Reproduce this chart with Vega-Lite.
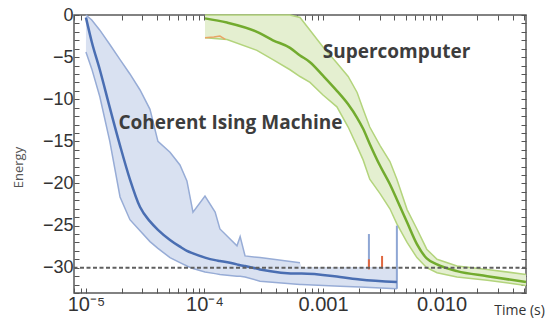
{
  "$schema": "https://vega.github.io/schema/vega-lite/v6.json",
  "width": 452,
  "height": 278,
  "autosize": {"type": "none"},
  "padding": {"left": 74, "top": 15, "right": 19, "bottom": 34},
  "background": "white",
  "config": {
    "view": {"stroke": "#5a5a5a", "strokeWidth": 1.5},
    "axis": {"domain": false, "grid": false, "tickColor": "#555555", "tickWidth": 1, "labelColor": "#333333", "labelFont": "Liberation Sans", "titleFont": "Open Sans", "titleFontWeight": "normal", "titleColor": "#555555", "zindex": 1}
  },
  "datasets": {
    "cim": [
      {"t": 0.00001, "mean": -0.3, "lo": -4.4, "hi": 0, "hl": 0},
      {"t": 0.0000112, "mean": -3.2, "lo": -6.4, "hi": -0.6, "hl": -0.6},
      {"t": 0.0000131, "mean": -6.5, "lo": -9.7, "hi": -1.8, "hl": -1.8},
      {"t": 0.0000159, "mean": -11.0, "lo": -15.0, "hi": -3.5, "hl": -3.5},
      {"t": 0.0000194, "mean": -15.5, "lo": -21.6, "hi": -5.3, "hl": -5.3},
      {"t": 0.0000235, "mean": -19.5, "lo": -24.3, "hi": -7.0, "hl": -7.0},
      {"t": 0.0000286, "mean": -22.8, "lo": -25.6, "hi": -8.9, "hl": -8.9},
      {"t": 0.0000347, "mean": -24.5, "lo": -26.9, "hi": -11.2, "hl": -11.2},
      {"t": 0.0000405, "mean": -25.5, "lo": -27.7, "hi": -15.0, "hl": -15.0},
      {"t": 0.0000512, "mean": -26.7, "lo": -28.8, "hi": -16.3, "hl": -16.3},
      {"t": 0.0000621, "mean": -27.5, "lo": -29.4, "hi": -17.8, "hl": -17.8},
      {"t": 0.0000711, "mean": -28.0, "lo": -29.8, "hi": -19.7, "hl": -19.7},
      {"t": 0.00008, "mean": -28.3, "lo": -30.1, "hi": -23.4, "hl": -23.4},
      {"t": 0.000101, "mean": -28.8, "lo": -30.5, "hi": -21.5, "hl": -21.5},
      {"t": 0.000123, "mean": -29.1, "lo": -30.7, "hi": -23.4, "hl": -23.4},
      {"t": 0.000135, "mean": -29.2, "lo": -30.8, "hi": -25.4, "hl": -25.4},
      {"t": 0.000188, "mean": -29.6, "lo": -31.0, "hi": -27.4, "hl": -27.4},
      {"t": 0.0002, "mean": -29.7, "lo": -31.0, "hi": -26.3, "hl": -26.3},
      {"t": 0.00022, "mean": -29.8, "lo": -31.1, "hi": -28.6, "hl": -28.6},
      {"t": 0.000294, "mean": -30.2, "lo": -31.6, "hi": -28.8, "hl": -28.8},
      {"t": 0.00064, "mean": -30.7, "lo": -32.0, "hi": -29.4, "hl": -29.4},
      {"t": 0.00066, "mean": -30.7, "lo": -32.0, "hi": -29.9, "hl": null},
      {"t": 0.00139, "mean": -31.1, "lo": -32.2, "hi": -29.9, "hl": null},
      {"t": 0.00205, "mean": -31.4, "lo": -32.3, "hi": -29.9, "hl": null},
      {"t": 0.0042, "mean": -31.7, "lo": -32.5, "hi": -29.9, "hl": null}
    ],
    "sc": [
      {"t": 0.000101, "hi": 0, "mean": -0.4, "lo": -2.7},
      {"t": 0.000155, "hi": 0, "mean": -0.9, "lo": -2.9},
      {"t": 0.000277, "hi": 0, "mean": -2.0, "lo": -4.2},
      {"t": 0.000378, "hi": 0, "mean": -3.0, "lo": -5.3},
      {"t": 0.000527, "hi": 0, "mean": -3.9, "lo": -6.5},
      {"t": 0.00064, "hi": -0.3, "mean": -4.8, "lo": -7.3},
      {"t": 0.000777, "hi": -1.8, "mean": -5.6, "lo": -8.0},
      {"t": 0.001, "hi": -3.8, "mean": -7.2, "lo": -9.5},
      {"t": 0.00131, "hi": -5.7, "mean": -9.0, "lo": -10.9},
      {"t": 0.00163, "hi": -7.3, "mean": -10.6, "lo": -13.3},
      {"t": 0.00194, "hi": -9.2, "mean": -12.2, "lo": -15.6},
      {"t": 0.00218, "hi": -11.2, "mean": -13.5, "lo": -17.2},
      {"t": 0.00248, "hi": -13.3, "mean": -15.3, "lo": -19.5},
      {"t": 0.00303, "hi": -15.5, "mean": -17.9, "lo": -21.2},
      {"t": 0.00367, "hi": -17.4, "mean": -20.1, "lo": -23.0},
      {"t": 0.0042, "hi": -19.5, "mean": -21.9, "lo": -24.8},
      {"t": 0.00512, "hi": -23.1, "mean": -24.6, "lo": -27.0},
      {"t": 0.0062, "hi": -25.4, "mean": -27.2, "lo": -28.8},
      {"t": 0.0075, "hi": -27.8, "mean": -28.9, "lo": -30.0},
      {"t": 0.00916, "hi": -29.0, "mean": -29.6, "lo": -30.6},
      {"t": 0.0135, "hi": -29.8, "mean": -30.4, "lo": -31.1},
      {"t": 0.0243, "hi": -30.2, "mean": -31.0, "lo": -31.5},
      {"t": 0.0516, "hi": -30.8, "mean": -31.7, "lo": -32.1}
    ],
    "orange": [
      {"t": 0.000101, "e": -2.7},
      {"t": 0.00012, "e": -2.6},
      {"t": 0.000135, "e": -2.5},
      {"t": 0.00015, "e": -2.9}
    ],
    "spikes": [
      {"t": 0.00244, "y1": -30.0, "y2": -26.0, "s": "cim"},
      {"t": 0.00244, "y1": -30.2, "y2": -29.0, "s": "other"},
      {"t": 0.00315, "y1": -30.1, "y2": -28.6, "s": "other"},
      {"t": 0.0042, "y1": -32.5, "y2": -25.0, "s": "cim"}
    ],
    "labels": [
      {"t": 0.0001656, "e": -12.87, "text": "Coherent Ising Machine"},
      {"t": 0.00417, "e": -4.39, "text": "Supercomputer"}
    ]
  },
  "layer": [
    {
      "data": {"name": "cim"},
      "mark": {"type": "area", "color": "#d9e1f1", "opacity": 1},
      "encoding": {
        "x": {
          "field": "t", "type": "quantitative",
          "scale": {"type": "log", "domain": [0.00000793, 0.0516], "nice": false},
          "axis": {
            "orient": "bottom",
            "values": [0.000008, 0.000009, 0.00001, 0.00002, 0.00003, 0.00004, 0.00005, 0.00006, 0.00007, 0.00008, 0.00009, 0.0001, 0.0002, 0.0003, 0.0004, 0.0005, 0.0006, 0.0007, 0.0008, 0.0009, 0.001, 0.002, 0.003, 0.004, 0.005, 0.006, 0.007, 0.008, 0.009, 0.01, 0.02, 0.03, 0.04, 0.05],
            "labelExpr": "datum.value === 0.00001 ? '10⁻⁵' : datum.value === 0.0001 ? '10⁻⁴' : datum.value === 0.001 ? '0.001' : datum.value === 0.01 ? '0.010' : ''",
            "labelOverlap": false,
            "labelFlush": false,
            "labelFontSize": 20,
            "labelPadding": 6,
            "tickSize": -5,
            "title": "Time (s)",
            "titleFontSize": 14,
            "titleColor": "#333333",
            "titleX": 445,
            "titleY": 17,
            "titleAlign": "center",
            "titleBaseline": "middle"
          }
        },
        "y": {
          "field": "lo", "type": "quantitative",
          "scale": {"domain": [-33, 0], "nice": false, "zero": false},
          "axis": {
            "orient": "left",
            "values": [-33, -32, -31, -30, -29, -28, -27, -26, -25, -24, -23, -22, -21, -20, -19, -18, -17, -16, -15, -14, -13, -12, -11, -10, -9, -8, -7, -6, -5, -4, -3, -2, -1, 0],
            "labelExpr": "datum.value % 5 === 0 ? datum.label : ''",
            "labelOverlap": false,
            "labelFlush": false,
            "labelFontSize": 18,
            "labelPadding": 6,
            "tickSize": -5,
            "title": "Energy",
            "titleFontSize": 13,
            "titleAngle": -90,
            "titleX": -56,
            "titleY": 152,
            "titleAlign": "center",
            "titleBaseline": "middle"
          }
        },
        "y2": {"field": "hi"}
      }
    },
    {
      "data": {"name": "sc"},
      "mark": {"type": "area", "color": "#e4efd0", "opacity": 1},
      "encoding": {
        "x": {
          "field": "t", "type": "quantitative",
          "axis": {
            "orient": "top",
            "values": [0.000008, 0.000009, 0.00001, 0.00002, 0.00003, 0.00004, 0.00005, 0.00006, 0.00007, 0.00008, 0.00009, 0.0001, 0.0002, 0.0003, 0.0004, 0.0005, 0.0006, 0.0007, 0.0008, 0.0009, 0.001, 0.002, 0.003, 0.004, 0.005, 0.006, 0.007, 0.008, 0.009, 0.01, 0.02, 0.03, 0.04, 0.05],
            "labels": false,
            "tickSize": -5,
            "title": null
          }
        },
        "y": {
          "field": "lo", "type": "quantitative",
          "axis": {
            "orient": "right",
            "values": [-33, -32, -31, -30, -29, -28, -27, -26, -25, -24, -23, -22, -21, -20, -19, -18, -17, -16, -15, -14, -13, -12, -11, -10, -9, -8, -7, -6, -5, -4, -3, -2, -1, 0],
            "labels": false,
            "tickSize": -5,
            "title": null
          }
        },
        "y2": {"field": "hi"}
      }
    },
    {
      "data": {"name": "cim"},
      "mark": {"type": "line", "color": "#97acd6", "strokeWidth": 1.5},
      "encoding": {
        "x": {"field": "t", "type": "quantitative", "axis": null},
        "y": {"field": "lo", "type": "quantitative", "axis": null}
      }
    },
    {
      "data": {"name": "cim"},
      "mark": {"type": "line", "color": "#97acd6", "strokeWidth": 1.5},
      "encoding": {
        "x": {"field": "t", "type": "quantitative", "axis": null},
        "y": {"field": "hl", "type": "quantitative", "axis": null}
      }
    },
    {
      "data": {"name": "sc"},
      "mark": {"type": "line", "color": "#b3d47c", "strokeWidth": 1.5},
      "encoding": {
        "x": {"field": "t", "type": "quantitative", "axis": null},
        "y": {"field": "lo", "type": "quantitative", "axis": null}
      }
    },
    {
      "data": {"name": "sc"},
      "mark": {"type": "line", "color": "#b3d47c", "strokeWidth": 1.5},
      "encoding": {
        "x": {"field": "t", "type": "quantitative", "axis": null},
        "y": {"field": "hi", "type": "quantitative", "axis": null}
      }
    },
    {
      "data": {"name": "orange"},
      "mark": {"type": "line", "color": "#e9a565", "strokeWidth": 1.5},
      "encoding": {
        "x": {"field": "t", "type": "quantitative", "axis": null},
        "y": {"field": "e", "type": "quantitative", "axis": null}
      }
    },
    {
      "data": {"name": "spikes"},
      "mark": {"type": "rule", "strokeWidth": 2},
      "encoding": {
        "x": {"field": "t", "type": "quantitative", "axis": null},
        "y": {"field": "y1", "type": "quantitative", "axis": null},
        "y2": {"field": "y2"},
        "color": {"field": "s", "type": "nominal", "scale": {"domain": ["cim", "other"], "range": ["#8ea6d4", "#e0673f"]}, "legend": null}
      }
    },
    {
      "data": {"name": "cim"},
      "mark": {"type": "line", "color": "#4a6eb2", "strokeWidth": 2.5, "interpolate": "monotone"},
      "encoding": {
        "x": {"field": "t", "type": "quantitative", "axis": null},
        "y": {"field": "mean", "type": "quantitative", "axis": null}
      }
    },
    {
      "data": {"name": "sc"},
      "mark": {"type": "line", "color": "#72ab2e", "strokeWidth": 2.5, "interpolate": "monotone"},
      "encoding": {
        "x": {"field": "t", "type": "quantitative", "axis": null},
        "y": {"field": "mean", "type": "quantitative", "axis": null}
      }
    },
    {
      "data": {"values": [{}]},
      "mark": {"type": "rule", "color": "#5f5f5f", "strokeWidth": 2, "strokeDash": [4, 2.5]},
      "encoding": {
        "y": {"datum": -30, "type": "quantitative", "axis": null}
      }
    },
    {
      "data": {"name": "labels"},
      "mark": {"type": "text", "font": "Open Sans", "fontWeight": "bold", "fontSize": 19, "color": "#3d3d3d", "align": "center", "baseline": "middle"},
      "encoding": {
        "x": {"field": "t", "type": "quantitative", "axis": null},
        "y": {"field": "e", "type": "quantitative", "axis": null},
        "text": {"field": "text"}
      }
    }
  ],
  "resolve": {"axis": {"x": "independent", "y": "independent"}}
}
